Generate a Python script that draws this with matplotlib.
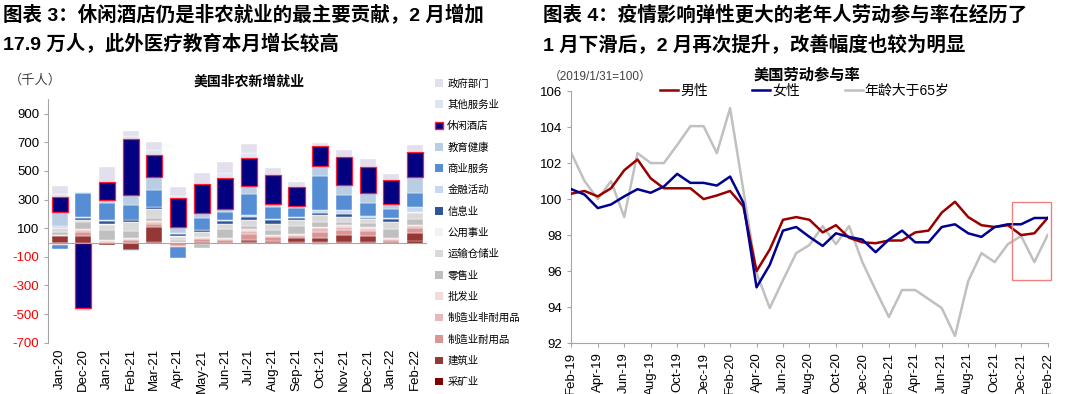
import numpy as np
import matplotlib
matplotlib.use("Agg")
import matplotlib.pyplot as plt
from matplotlib.patches import Patch, Rectangle

plt.rcParams['font.family'] = ['Liberation Sans', 'Noto Sans CJK SC', 'DejaVu Sans']
plt.rcParams['axes.unicode_minus'] = False

# ---- left chart: nonfarm payrolls by sector (thousand) ----
months_l = ["Jan-20", "Dec-20", "Jan-21", "Feb-21", "Mar-21", "Apr-21", "May-21", "Jun-21",
            "Jul-21", "Aug-21", "Sep-21", "Oct-21", "Nov-21", "Dec-21", "Jan-22", "Feb-22"]

# stack order, bottom -> top
sectors = ["采矿业", "建筑业", "制造业耐用品", "制造业非耐用品", "批发业", "零售业", "运输仓储业",
           "公用事业", "信息业", "金融活动", "商业服务", "教育健康", "休闲酒店", "其他服务业", "政府部门"]
sector_colors = ["#7f0000", "#953735", "#d99694", "#e6b9b8", "#f2dcdb", "#bfbfbf", "#d9d9d9",
                 "#f2f2f2", "#2f5597", "#c6d9f1", "#558ed5", "#b9cde5", "#000080", "#dce6f2", "#e4dfec"]

mining      = [0, 0, 0, -5, 5, 0, 3, 0, 3, 2, 3, 5, 5, 5, 2, 8]
construction = [45, 47, -14, -45, 105, -5, -10, -7, 15, 10, 28, 25, 45, 42, -5, 60]
mfg_durable = [-10, 23, 5, 15, 20, -18, 20, 15, 40, 25, 15, 45, 35, 30, 15, 30]
mfg_nondur  = [-8, 16, 6, 10, 12, -8, 12, 12, 25, 12, 8, 25, 25, 20, 8, 15]
wholesale   = [5, 5, 5, 5, 5, 3, 5, 5, 10, 5, 5, 5, 10, 8, 5, 10]
retail      = [20, 50, 74, 50, 22, 15, -25, 63, 20, 35, 55, 35, 20, 30, 65, 40]
transport   = [30, 16, 35, 60, 63, 23, 30, 35, 45, 40, 40, 55, 40, 28, 50, 45]
utilities   = [2, 0, 2, 2, 3, 2, 2, 2, 2, 0, 2, 0, 0, 0, 0, 2]
information = [0, 12, 26, 12, 10, 17, 12, 17, 19, 28, 12, 12, 16, 8, 19, 5]
financial   = [10, 10, 7, -10, 5, 5, 5, 5, 15, 5, 10, 23, 30, 15, 5, 35]
business    = [-25, 165, 113, 105, 118, -80, 81, 60, 142, 84, 65, 232, 108, 93, 68, 93]
edu_health  = [100, 0, 24, 75, 88, 42, 37, 18, 58, 25, 10, 70, 70, 65, 35, 112]
leisure     = [105, -455, 128, 390, 152, 205, 200, 221, 198, 200, 135, 140, 190, 185, 165, 175]
other_serv  = [20, 10, 0, 20, 35, 16, 0, 30, 30, 0, 0, 20, 0, 0, 0, 0]
government  = [55, -20, 105, 33, 60, 60, 77, 80, 68, 50, 35, -15, 55, 57, 42, 50]

sector_values = [mining, construction, mfg_durable, mfg_nondur, wholesale, retail, transport,
                 utilities, information, financial, business, edu_health, leisure, other_serv, government]

# ---- right chart: participation rate index (2019/1/31=100) ----
month_names = ["Jan", "Feb", "Mar", "Apr", "May", "Jun", "Jul", "Aug", "Sep", "Oct", "Nov", "Dec"]
months_r = []
for k in range(37):
    m = (1 + k) % 12
    y = 19 + (1 + k) // 12
    months_r.append(f"{month_names[m]}-{y}")

male = [100.3, 100.45, 100.15, 100.6, 101.6, 102.2, 101.15, 100.6, 100.6, 100.6, 100.0, 100.2, 100.45,
        99.6, 96.0, 97.2, 98.85, 99.0, 98.85, 98.15, 98.55, 97.85, 97.6, 97.55, 97.7, 97.7, 98.15,
        98.25, 99.25, 99.85, 99.0, 98.55, 98.45, 98.55, 98.0, 98.1, 98.95]
female = [100.55, 100.25, 99.5, 99.7, 100.15, 100.55, 100.35, 100.7, 101.4, 100.9, 100.9, 100.75, 101.25,
          99.8, 95.1, 96.35, 98.25, 98.45, 97.9, 97.4, 98.1, 97.9, 97.75, 97.05, 97.75, 98.25, 97.6,
          97.6, 98.45, 98.6, 98.1, 97.9, 98.45, 98.6, 98.6, 98.95, 98.95]
over65 = [102.55, 101.0, 100.0, 101.0, 99.0, 102.55, 102.0, 102.0, 103.0, 104.05, 104.05, 102.55, 105.05,
          100.5, 95.9, 93.95, 95.5, 97.0, 97.45, 98.5, 97.5, 98.5, 96.5, 94.95, 93.45, 94.95, 94.95,
          94.45, 93.95, 92.4, 95.45, 97.0, 96.5, 97.5, 97.95, 96.5, 98.0]

fig = plt.figure(figsize=(10.8, 3.94), dpi=100)

# headers
fig.text(0.003, 0.962, "图表 3：休闲酒店仍是非农就业的最主要贡献，2 月增加", fontsize=14,
         fontweight='bold', va='center', ha='left')
fig.text(0.003, 0.888, "17.9 万人，此外医疗教育本月增长较高", fontsize=14,
         fontweight='bold', va='center', ha='left')
fig.text(0.503, 0.962, "图表 4：疫情影响弹性更大的老年人劳动参与率在经历了", fontsize=14,
         fontweight='bold', va='center', ha='left')
fig.text(0.503, 0.888, "1 月下滑后，2 月再次提升，改善幅度也较为明显", fontsize=14,
         fontweight='bold', va='center', ha='left')

# ---- left axes ----
ax1 = fig.add_axes([0.0442, 0.130, 0.351, 0.618])
x = np.arange(len(months_l))
pos_base = np.zeros(len(x))
neg_base = np.zeros(len(x))
for name, col, vals in zip(sectors, sector_colors, sector_values):
    v = np.array(vals, dtype=float)
    base = np.where(v >= 0, pos_base, neg_base)
    if name == "休闲酒店":
        ax1.bar(x, v, 0.68, bottom=base, color=col, edgecolor='#ff1a3c', linewidth=0.9, zorder=3)
    else:
        ax1.bar(x, v, 0.68, bottom=base, color=col, edgecolor='white', linewidth=0.3, zorder=2)
    pos_base = pos_base + np.where(v >= 0, v, 0)
    neg_base = neg_base + np.where(v < 0, v, 0)

ax1.set_xlim(-0.5, len(x) - 0.5)
ax1.set_ylim(-700, 1000)
ax1.set_yticks(np.arange(-700, 1000, 200))
ax1.set_xticks(x)
ax1.set_xticklabels(months_l, rotation=90, fontsize=9.5)
for lab in ax1.get_yticklabels():
    lab.set_fontsize(9.5)
    if float(lab.get_position()[1]) < 0:
        lab.set_color('#ff0000')
ax1.tick_params(axis='x', length=0, pad=4)
ax1.tick_params(axis='y', length=3, color='#a6a6a6', pad=3)
for s in ['top', 'right', 'bottom']:
    ax1.spines[s].set_visible(False)
ax1.spines['left'].set_color('#a6a6a6')
ax1.axhline(0, color='#a6a6a6', linewidth=0.8, zorder=4)

fig.text(0.231, 0.794, "美国非农新增就业", fontsize=10, fontweight='bold', ha='center', va='center')
fig.text(0.008, 0.797, "（千人）", fontsize=9.5, ha='left', va='center', color='#404040')

handles = []
for name, col in zip(sectors[::-1], sector_colors[::-1]):
    if name == "休闲酒店":
        handles.append(Patch(facecolor=col, edgecolor='#ff1a3c', linewidth=1.0, label=name))
    else:
        handles.append(Patch(facecolor=col, edgecolor='none', label=name))
fig.legend(handles=handles, loc='upper left', bbox_to_anchor=(0.403, 0.801), frameon=False,
           fontsize=7.5, handlelength=0.75, handleheight=0.75, handletextpad=0.4,
           labelspacing=1.07, borderaxespad=0, borderpad=0)

# ---- right axes ----
ax2 = fig.add_axes([0.529, 0.129, 0.441, 0.640])
xr = np.arange(len(months_r))
ax2.plot(xr, male, color='#990000', linewidth=1.8, label="男性", zorder=3)
ax2.plot(xr, female, color='#000090', linewidth=1.8, label="女性", zorder=3)
ax2.plot(xr, over65, color='#c0c0c0', linewidth=1.8, label="年龄大于65岁", zorder=2)
ax2.set_xlim(0, len(xr) - 1)
ax2.set_ylim(92, 106)
ax2.set_yticks(np.arange(92, 107, 2))
ax2.set_xticks(xr[::2])
ax2.set_xticklabels(months_r[::2], rotation=90, fontsize=9.5)
ax2.tick_params(axis='y', labelsize=9.5, length=3, color='#a6a6a6')
ax2.tick_params(axis='x', length=3, color='#a6a6a6')
for s in ['top', 'right']:
    ax2.spines[s].set_visible(False)
for s in ['left', 'bottom']:
    ax2.spines[s].set_color('#a6a6a6')

# highlight box around the last three months
last = np.array([male[-3:], female[-3:], over65[-3:]])
bx0 = xr[-3] - 0.7
box = Rectangle((bx0, last.min() - 1.0), xr[-1] + 0.25 - bx0, last.max() - last.min() + 1.9,
                fill=False, edgecolor='#f08080', linewidth=1.0, clip_on=False, zorder=5)
ax2.add_patch(box)

ax2.legend(loc='center', bbox_to_anchor=(0.49, 1.0), ncol=3, frameon=False, fontsize=10,
           handlelength=1.3, handletextpad=0.15, columnspacing=3.2, borderaxespad=0)
fig.text(0.747, 0.808, "美国劳动参与率", fontsize=11, fontweight='bold', ha='center', va='center')
fig.text(0.508, 0.806, "（2019/1/31=100）", fontsize=8.5, ha='left', va='center', color='#404040')

fig.savefig("out.png", dpi=100)
